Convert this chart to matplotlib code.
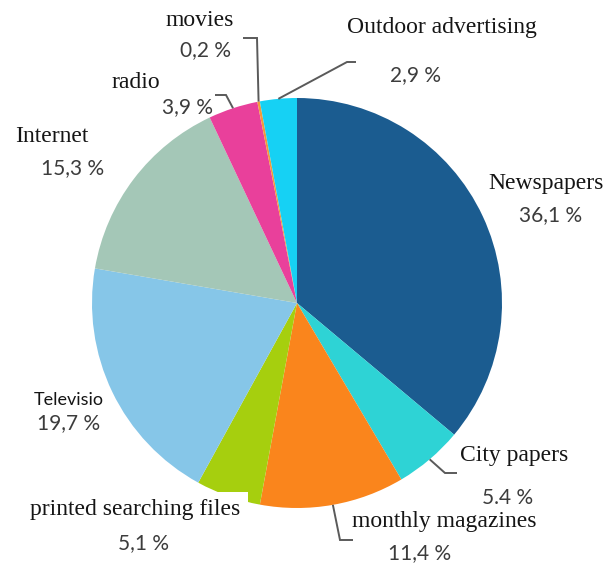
import numpy as np
import matplotlib
matplotlib.use("Agg")
import matplotlib.pyplot as plt

# media share, clockwise from 12 o'clock
categories = ["Newspapers", "City papers", "monthly magazines",
              "printed searching files", "Televisio", "Internet",
              "radio", "movies", "Outdoor advertising"]
shares = [36.1, 5.4, 11.4, 5.1, 19.7, 15.3, 3.9, 0.2, 2.9]
colors = ["#1b5c90", "#2ed3d5", "#fa851c", "#a6cf0e", "#86c6e8",
          "#a4c7b7", "#e9409b", "#f29a3a", "#16d1f4"]

W, H = 610, 565
CX, CY, R = 297, H - 303, 205

SERIF = "Liberation Serif"
SANS = "Lato"
NAME_C = "#151515"
VAL_C = "#3c3c3c"


def pct(v, dec="."):
    return f"{v:.1f}".replace(".", dec) + " %"


def px(x, y):
    # image-style (top-left) pixel position -> data coords
    return x, H - y


def edge_point(i):
    start = 90 - sum(shares[:i]) * 3.6
    mid = np.deg2rad(start - shares[i] * 1.8)
    return CX + R * np.cos(mid), CY + R * np.sin(mid)


fig = plt.figure(figsize=(W / 100, H / 100), dpi=100)
ax = fig.add_axes([0, 0, 1, 1])

ax.pie(shares, colors=colors, startangle=90, counterclock=False,
       center=(CX, CY), radius=R, frame=True,
       wedgeprops=dict(linewidth=0))
ax.set_xlim(0, W)
ax.set_ylim(0, H)
ax.set_aspect("equal")
ax.axis("off")

# name label, value label, font family of the name, name size
labels = {
    "Newspapers": ((546, 183), (551, 215), SERIF, 17),
    "City papers": ((514, 455), (508, 498), SERIF, 17),
    "monthly magazines": ((444, 522), (420, 553), SERIF, 17),
    "printed searching files": ((135, 510), (144, 543), SERIF, 17),
    "Televisio": ((69, 400), (69, 423), SANS, 13),
    "Internet": ((52, 137), (73, 168), SERIF, 17),
    "radio": ((136, 82), (187, 107), SERIF, 17),
    "movies": ((200, 20), (206, 50), SERIF, 17),
    "Outdoor advertising": ((442, 28), (415, 75), SERIF, 17),
}

for i, name in enumerate(categories):
    (nx, ny), (vx, vy), fam, fs = labels[name]
    box = None
    if name == "printed searching files":
        box = dict(boxstyle="square,pad=0.32", fc="white", ec="none")
    ax.text(*px(nx, ny), name, family=fam, fontsize=fs, color=NAME_C,
            ha="center", va="center", bbox=box, zorder=5)
    dec = "." if name == "City papers" else ","
    ax.text(*px(vx, vy), pct(shares[i], dec), family=SANS, fontsize=15,
            color=VAL_C, ha="center", va="center", zorder=5)

# leader lines: wedge edge -> elbow -> short tail
leaders = {
    "City papers": [(445, 473), (457, 473)],
    "monthly magazines": [(340, 540), (353, 540)],
    "radio": [(226, 95), (215, 95)],
    "movies": [(257, 38), (243, 38)],
    "Outdoor advertising": [(347, 62), (356, 62)],
}
for name, pts in leaders.items():
    i = categories.index(name)
    x0, y0 = edge_point(i)
    xs = [x0] + [p[0] for p in pts]
    ys = [y0] + [H - p[1] for p in pts]
    ax.plot(xs, ys, color="#5a5a5a", lw=1.4, zorder=4,
            solid_capstyle="butt", solid_joinstyle="miter")

fig.savefig("out.png", dpi=100, facecolor="white")
